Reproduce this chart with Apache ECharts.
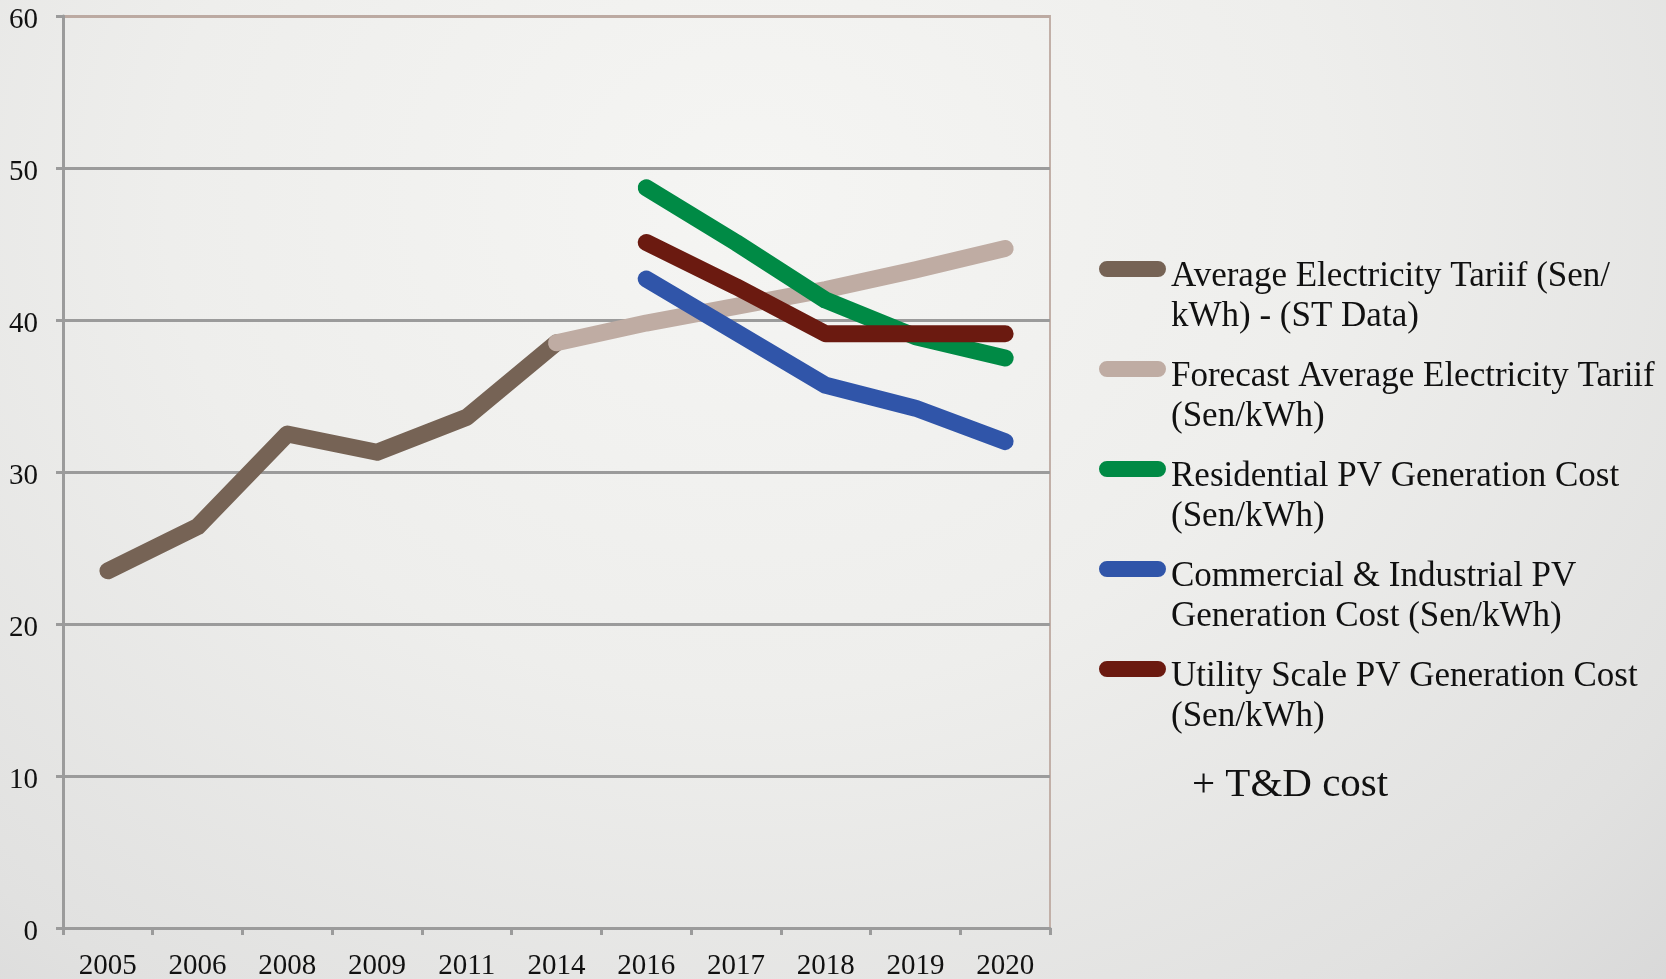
<!DOCTYPE html>
<html>
<head>
<meta charset="utf-8">
<title>Electricity tariff vs PV generation cost</title>
<script src="https://cdn.jsdelivr.net/npm/echarts@6/dist/echarts.min.js"></script>
<style>
  html, body {
    margin: 0;
    padding: 0;
    width: 100%;
    height: 100%;
    overflow: hidden;
  }
  body {
    background: radial-gradient(ellipse at 45% 20%, #f5f5f3 0%, #eeeeec 45%, #e1e1e0 85%, #d9d9d9 100%);
  }
  #chart {
    width: 1666px;
    height: 979px;
  }
</style>
</head>
<body>
<div id="chart"></div>
<script>
// categories (years on the x axis)
const years = ['2005', '2006', '2008', '2009', '2011', '2014', '2016', '2017', '2018', '2019', '2020'];

// series values, Sen/kWh ('-' = no value for that year)
const averageTariff = [23.5, 26.4, 32.5, 31.3, 33.6, 38.5, '-', '-', '-', '-', '-'];
const forecastTariff = ['-', '-', '-', '-', '-', 38.5, 39.8, 40.9, 42.0, 43.3, 44.7];
const residentialPv = ['-', '-', '-', '-', '-', '-', 48.7, 45.1, 41.3, 38.9, 37.5];
const commercialPv = ['-', '-', '-', '-', '-', '-', 42.7, 39.2, 35.7, 34.2, 32.0];
const utilityPv = ['-', '-', '-', '-', '-', '-', 45.1, 42.2, 39.1, 39.1, 39.1];

const seriesNames = [
  'Average Electricity Tariif (Sen/kWh) - (ST Data)',
  'Forecast Average Electricity Tariif (Sen/kWh)',
  'Residential PV Generation Cost (Sen/kWh)',
  'Commercial & Industrial PV Generation Cost (Sen/kWh)',
  'Utility Scale PV Generation Cost (Sen/kWh)'
];
const legendLabels = [
  'Average Electricity Tariif (Sen/\nkWh) - (ST Data)',
  'Forecast Average Electricity Tariif\n(Sen/kWh)',
  'Residential PV Generation Cost\n(Sen/kWh)',
  'Commercial & Industrial PV\nGeneration Cost (Sen/kWh)',
  'Utility Scale PV Generation Cost\n(Sen/kWh)'
];
const seriesData = [averageTariff, forecastTariff, residentialPv, commercialPv, utilityPv];
const colors = ['#766355', '#bfaca3', '#008a45', '#3055a9', '#6b1a10'];

const yTicks = [0, 10, 20, 30, 40, 50, 60];

const serif = '"Liberation Serif", "Times New Roman", serif';
const gridGray = '#9b9b9b';

// legend bar sits near the first text line: an invisible point stretches the icon box downwards
const legendIcon = 'path://M8,0 L59,0 A8,8 0 0 1 59,16 L8,16 A8,8 0 0 1 8,0 Z M0,72 L0.01,72';

const chart = echarts.init(document.getElementById('chart'), null, { renderer: 'canvas' });

const option = {
  animation: false,
  backgroundColor: 'transparent',
  color: colors,
  grid: {
    left: 63,
    right: 616,
    top: 16,
    bottom: 51,
    show: true,
    borderColor: '#c2b0a8',
    borderWidth: 2,
    containLabel: false,
    outerBoundsMode: 'none'
  },
  legend: {
    orient: 'vertical',
    left: 1099,
    top: 257,
    padding: 0,
    itemGap: 20,
    itemWidth: 67,
    itemHeight: 72,
    icon: legendIcon,
    itemStyle: { borderWidth: 0 },
    selectedMode: false,
    data: seriesNames,
    formatter: function (name) {
      return legendLabels[seriesNames.indexOf(name)];
    },
    textStyle: {
      fontFamily: serif,
      fontSize: 35,
      lineHeight: 40,
      color: '#111'
    }
  },
  xAxis: {
    type: 'category',
    data: years,
    boundaryGap: true,
    axisLine: { lineStyle: { color: gridGray, width: 3 } },
    axisTick: { show: true, interval: 0, length: 7, lineStyle: { color: gridGray, width: 3 } },
    axisLabel: {
      interval: 0,
      margin: 24,
      fontFamily: serif,
      fontSize: 29,
      color: '#111'
    },
    splitLine: { show: false }
  },
  yAxis: {
    type: 'value',
    min: yTicks[0],
    max: yTicks[yTicks.length - 1],
    interval: 10,
    axisLine: { show: true, lineStyle: { color: gridGray, width: 3 } },
    axisTick: { show: true, length: 7, lineStyle: { color: gridGray, width: 3 } },
    axisLabel: {
      margin: 25,
      verticalAlign: 'top',
      lineHeight: 8,
      fontFamily: serif,
      fontSize: 29,
      color: '#111'
    },
    splitLine: {
      show: true,
      lineStyle: {
        color: [gridGray, gridGray, gridGray, gridGray, gridGray, gridGray, '#bcaaa2'],
        width: 3
      }
    }
  },
  graphic: [
    {
      type: 'text',
      left: 1192,
      top: 765,
      style: {
        text: '+ T&D cost',
        font: '41px ' + serif,
        fill: '#111'
      }
    }
  ],
  series: seriesData.map(function (values, i) {
    return {
      name: seriesNames[i],
      type: 'line',
      data: values,
      showSymbol: false,
      symbol: 'none',
      connectNulls: false,
      lineStyle: { width: 17, color: colors[i], cap: 'round', join: 'round' },
      itemStyle: { color: colors[i] },
      emphasis: { disabled: true }
    };
  })
};

chart.setOption(option);
</script>
</body>
</html>
